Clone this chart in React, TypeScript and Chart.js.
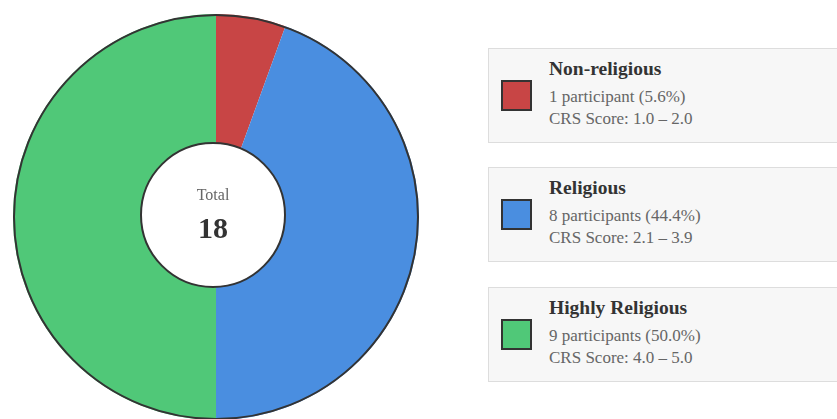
import React, { useEffect, useRef } from "react";
import { Chart, registerables } from "chart.js";

Chart.register(...registerables);

const categories = ["Non-religious", "Religious", "Highly Religious"];
const participants = [1, 8, 9];
const percentLabels = ["5.6%", "44.4%", "50.0%"];
const scoreRanges = ["1.0 – 2.0", "2.1 – 3.9", "4.0 – 5.0"];
const colors = ["#c84545", "#4a8ee0", "#50c878"];
const totalLabel = "Total";

const FONT = '"Liberation Serif", "Times New Roman", serif';

const outlinePlugin = {
  id: "outline",
  afterDatasetsDraw(chart: any) {
    const meta = chart.getDatasetMeta(0);
    const arc = meta.data[0];
    if (!arc) return;
    const { x, y, outerRadius } = arc.getProps(["x", "y", "outerRadius"], true);
    const ctx = chart.ctx;
    ctx.save();
    ctx.beginPath();
    ctx.arc(x, y, outerRadius - 1, 0, Math.PI * 2);
    ctx.lineWidth = 2;
    ctx.strokeStyle = "#333333";
    ctx.stroke();
    ctx.restore();
  },
};

function Pie() {
  const ref = useRef<HTMLCanvasElement | null>(null);
  useEffect(() => {
    if (!ref.current) return;
    const chart = new Chart(ref.current, {
      type: "pie",
      data: {
        labels: categories,
        datasets: [
          {
            data: participants,
            backgroundColor: colors,
            borderWidth: 0,
          },
        ],
      },
      options: {
        animation: false,
        responsive: false,
        maintainAspectRatio: false,
        events: [],
        layout: { padding: 0 },
        plugins: {
          legend: { display: false },
          tooltip: { enabled: false },
        },
      },
      plugins: [outlinePlugin],
    });
    return () => chart.destroy();
  }, []);
  return (
    <canvas
      ref={ref}
      width={406}
      height={406}
      style={{ position: "absolute", left: 13, top: 14, width: 406, height: 406 }}
    />
  );
}

const total = participants.reduce((a, b) => a + b, 0);

export default function App() {
  const boxTops = [48, 167, 287];
  return (
    <div
      style={{
        position: "fixed",
        left: 0,
        top: 0,
        width: 837,
        height: 419,
        overflow: "hidden",
        background: "#ffffff",
        fontFamily: FONT,
      }}
    >
      <Pie />
      <div
        style={{
          position: "absolute",
          left: 140,
          top: 142,
          width: 146,
          height: 146,
          boxSizing: "border-box",
          borderRadius: "50%",
          border: "2px solid #333",
          background: "#ffffff",
        }}
      >
        <div
          style={{
            position: "absolute",
            left: 0,
            width: "100%",
            top: 42.6,
            textAlign: "center",
            fontSize: 16,
            lineHeight: "16px",
            color: "#666",
          }}
        >
          {totalLabel}
        </div>
        <div
          style={{
            position: "absolute",
            left: 0,
            width: "100%",
            top: 69,
            textAlign: "center",
            fontSize: 30,
            lineHeight: "30px",
            fontWeight: "bold",
            color: "#333",
          }}
        >
          {total}
        </div>
      </div>
      {categories.map((c, i) => (
        <div
          key={c}
          style={{
            position: "absolute",
            left: 488,
            top: boxTops[i],
            width: 420,
            height: 95,
            boxSizing: "border-box",
            border: "1px solid #dddddd",
            background: "#f7f7f7",
          }}
        >
          <div
            style={{
              position: "absolute",
              left: 12,
              top: 31,
              width: 31,
              height: 31,
              boxSizing: "border-box",
              border: "2px solid #333",
              background: colors[i],
            }}
          />
          <div style={{ position: "absolute", left: 60, top: 6.4 }}>
            <div
              style={{
                fontSize: 19.5,
                lineHeight: "28px",
                fontWeight: "bold",
                color: "#333",
                whiteSpace: "nowrap",
              }}
            >
              {c}
            </div>
            <div
              style={{
                marginTop: 3,
                fontSize: 17,
                lineHeight: "22px",
                color: "#666",
                whiteSpace: "nowrap",
              }}
            >
              {participants[i]} {participants[i] === 1 ? "participant" : "participants"} ({percentLabels[i]})
            </div>
            <div
              style={{
                fontSize: 17,
                lineHeight: "22px",
                color: "#666",
                whiteSpace: "nowrap",
              }}
            >
              CRS Score: {scoreRanges[i]}
            </div>
          </div>
        </div>
      ))}
    </div>
  );
}
